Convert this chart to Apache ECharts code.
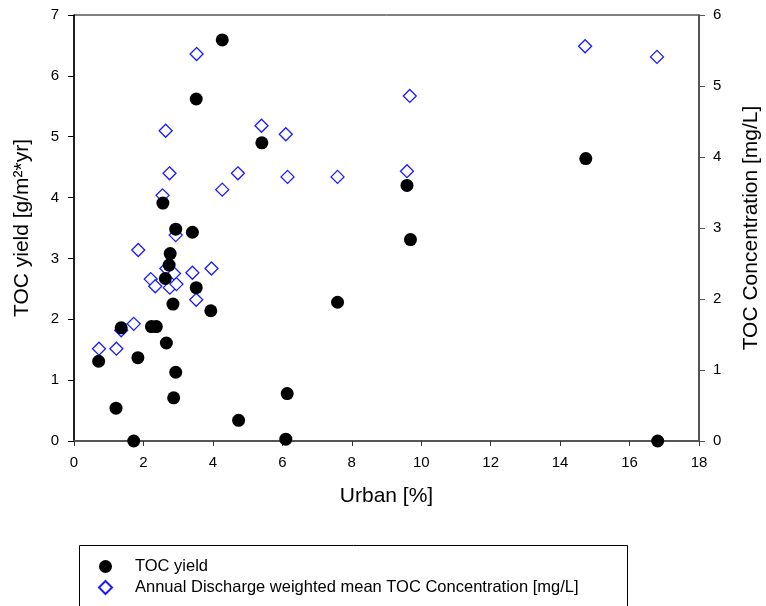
<!DOCTYPE html>
<html><head><meta charset="utf-8">
<script src="https://cdn.jsdelivr.net/npm/echarts@6/dist/echarts.min.js"></script>
<style>html,body{margin:0;padding:0;background:#fff}#c{width:766px;height:606px}</style>
</head><body><div id="c"></div>
<script>
const xTicks = [0, 2, 4, 6, 8, 10, 12, 14, 16, 18];
const yieldUrban = [0.71,1.21,1.36,1.72,1.84,2.23,2.37,2.56,2.66,2.63,2.77,2.74,2.93,2.85,2.93,2.87,3.41,3.52,3.94,4.74,3.52,4.27,5.41,6.14,6.10,7.59,9.59,9.69,14.74,16.81];
const yieldValues = [1.31,0.54,1.86,0.0,1.37,1.88,1.88,3.91,1.61,2.67,3.08,2.89,3.48,2.25,1.13,0.71,3.43,2.52,2.14,0.34,5.62,6.59,4.90,0.78,0.03,2.28,4.20,3.31,4.64,0.0];
const concUrban = [0.72,1.22,1.36,1.72,1.85,2.21,2.34,2.55,2.66,2.76,2.88,2.95,2.93,3.41,3.52,3.96,4.27,3.53,2.64,2.75,4.72,5.40,6.10,6.15,7.59,9.59,9.67,14.72,16.79];
const concValues = [1.30,1.30,1.56,1.65,2.69,2.28,2.18,3.46,2.43,2.16,2.36,2.21,2.90,2.37,1.99,2.43,3.54,5.45,4.37,3.77,3.77,4.44,4.32,3.72,3.72,3.80,4.86,5.56,5.41];
const seriesNames = ['TOC yield', 'Annual Discharge weighted mean TOC Concentration [mg/L]'];

const chart = echarts.init(document.getElementById('c'), null, {renderer: 'canvas'});
const F = 'Liberation Sans, Arial, sans-serif';
const axisText = {color: '#000', fontFamily: F, fontSize: 15};
const nameText = {color: '#000', fontFamily: F, fontSize: 21};
chart.setOption({
  animation: false,
  backgroundColor: '#fff',
  grid: {left: 74, right: 67, top: 15, bottom: 165, show: true, borderColor: '#000', borderWidth: 1,
         containLabel: false, outerBoundsMode: 'none'},
  xAxis: {
    type: 'value', min: 0, max: 18, interval: 2,
    name: 'Urban [%]', nameLocation: 'middle', nameGap: 45, nameTextStyle: nameText,
    axisLine: {show: true, onZero: false, lineStyle: {color: '#555', width: 2}},
    axisTick: {show: true, inside: false, length: 5, lineStyle: {color: '#333', width: 1}},
    axisLabel: Object.assign({margin: 14, formatter: v => xTicks.includes(v) ? String(v) : ''}, axisText),
    splitLine: {show: false}
  },
  yAxis: [{
    type: 'value', min: 0, max: 7, interval: 1, position: 'left',
    name: 'TOC yield [g/m²*yr]', nameLocation: 'middle', nameGap: 41, nameRotate: 90, nameTextStyle: nameText,
    axisLine: {show: true, onZero: false, lineStyle: {color: '#000', width: 1.5}},
    axisTick: {show: true, length: 6, lineStyle: {color: '#000'}},
    axisLabel: Object.assign({margin: 15}, axisText),
    splitLine: {show: false}
  }, {
    type: 'value', min: 0, max: 6, interval: 1, position: 'right',
    name: 'TOC Concentration [mg/L]', nameLocation: 'middle', nameGap: 42, nameRotate: 90, nameTextStyle: nameText,
    axisLine: {show: true, onZero: false, lineStyle: {color: '#555', width: 2}},
    axisTick: {show: true, length: 6, lineStyle: {color: '#555'}},
    axisLabel: Object.assign({margin: 14}, axisText),
    splitLine: {show: false}
  }],
  legend: {
    orient: 'vertical', left: 93, top: 553, itemGap: 4, itemWidth: 13, itemHeight: 13,
    textStyle: {color: '#000', fontFamily: F, fontSize: 16.5, lineHeight: 16, padding: [0, 0, 0, 18]},
    data: seriesNames
  },
  graphic: [{
    type: 'rect', left: 77, top: 543, shape: {width: 548, height: 80},
    style: {fill: 'none', stroke: '#000', lineWidth: 1}, silent: true, z: -1
  }],
  series: [{
    name: seriesNames[1], type: 'scatter', yAxisIndex: 1,
    symbol: 'diamond', symbolSize: 13,
    itemStyle: {color: '#fff', borderColor: '#1a1aff', borderWidth: 1.3, opacity: 1},
    data: concUrban.map((x, i) => [x, concValues[i]]), z: 2
  }, {
    name: seriesNames[0], type: 'scatter', yAxisIndex: 0,
    symbol: 'circle', symbolSize: 13,
    itemStyle: {color: '#000', opacity: 1},
    data: yieldUrban.map((x, i) => [x, yieldValues[i]]), z: 3
  }]
});
</script></body></html>
